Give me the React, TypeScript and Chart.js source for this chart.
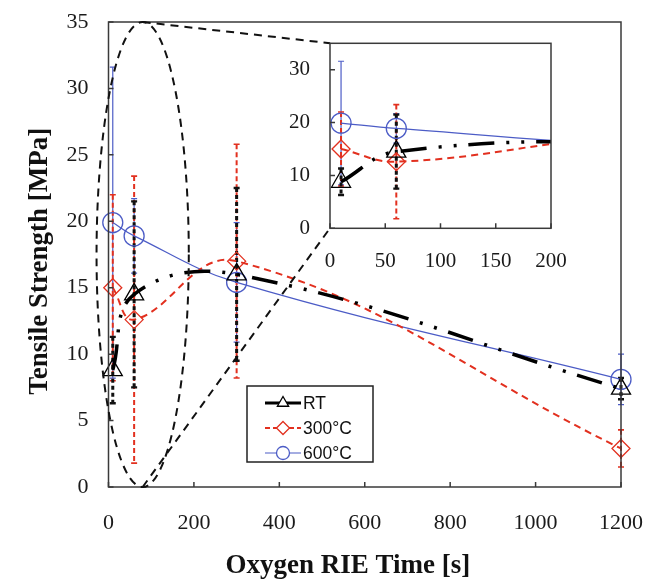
import React, { useEffect, useRef } from 'react';
import { Chart, registerables } from 'chart.js';

Chart.register(...registerables);

// ---------------- data ----------------
const etchTimes = [10, 60, 300, 1200];
const seriesNames = ['RT', '300°C', '600°C'];
const rtStrength = [8.8, 14.5, 16.0, 7.4];
const rtError = [2.5, 7.0, 6.5, 0.8];
const c300Strength = [15.0, 12.6, 17.0, 2.9];
const c300Error = [7.0, 10.8, 8.8, 1.4];
const c600Strength = [19.9, 18.9, 15.4, 8.1];
const c600Error = [11.7, 2.8, 4.5, 1.9];

const mainXTickValues = [0, 200, 400, 600, 800, 1000, 1200];
const mainYTickValues = [0, 5, 10, 15, 20, 25, 30, 35];
const insetXTickValues = [0, 50, 100, 150, 200];
const insetYTickValues = [0, 10, 20, 30];

const xTitle = 'Oxygen RIE Time [s]';
const yTitle = 'Tensile Strength [MPa]';
// trailing no-break spaces nudge the centred titles to where the reference puts them
const xTitleShift = '\u00a0\u00a0\u00a0\u00a0\u00a0';
const yTitleShift = '\u00a0\u00a0';

// zoom annotation (data units of the main chart)
const zoomEllipse = { cx: 80, cy: 17.5, rx: 108, ry: 17.5 };
const insetAnchor = { x: 519, yTop: 33.4, yBottom: 19.5 };

// ---------------- styles ----------------
const SERIF = '"Liberation Serif", "Times New Roman", Times, serif';
const SANS = '"Liberation Sans", Arial, Helvetica, sans-serif';
const RED = '#e2301f';
const BLUE = '#4c5cc6';
const BLACK = '#000000';
const AXIS = '#3a3a3a';

type ErrStyle = { color: string; width: number; dash: number[] };

function buildDatasets() {
  const mk = (
    label: string, ys: number[], errs: number[], color: string, width: number,
    dash: number[], pointStyle: string, radius: number, errStyle: ErrStyle,
    legendWidth: number, legendDash: number[],
  ) => ({
    label,
    data: etchTimes.map((x, i) => ({ x, y: ys[i] })),
    errors: errs,
    errStyle,
    legendWidth,
    legendDash,
    borderColor: color,
    backgroundColor: 'rgba(0,0,0,0)',
    borderWidth: width,
    borderDash: dash,
    tension: 0.4,
    fill: false,
    pointStyle,
    pointRadius: radius,
    pointHoverRadius: radius,
    pointBorderColor: color,
    pointBackgroundColor: 'rgba(255,255,255,0)',
    pointBorderWidth: 1.3,
  });
  return [
    mk(seriesNames[0], rtStrength, rtError, BLACK, 3.5, [26, 12, 3, 12, 3, 12], 'triangle', 11,
      { color: '#111111', width: 3, dash: [4, 3] }, 3, []),
    mk(seriesNames[1], c300Strength, c300Error, RED, 2, [7, 5], 'rectRot', 9,
      { color: RED, width: 2, dash: [5, 3] }, 2, [5, 3]),
    mk(seriesNames[2], c600Strength, c600Error, BLUE, 1.2, [], 'circle', 10,
      { color: BLUE, width: 1.2, dash: [] }, 1.2, []),
  ];
}

// ---------------- plugins ----------------
const errorBarPlugin = {
  id: 'errorBars',
  beforeDatasetsDraw(chart: any, _args: any, opts: any) {
    const { ctx, chartArea } = chart;
    const xs = chart.scales.x;
    const ys = chart.scales.y;
    ctx.save();
    if (opts && opts.clip) {
      ctx.beginPath();
      ctx.rect(chartArea.left, chartArea.top, chartArea.right - chartArea.left, chartArea.bottom - chartArea.top);
      ctx.clip();
    }
    const list = chart.data.datasets.map((d: any, i: number) => i).reverse();
    list.forEach((i: number) => {
      const ds = chart.data.datasets[i];
      const st: ErrStyle = ds.errStyle;
      ds.data.forEach((pt: any, j: number) => {
        const e = ds.errors[j];
        const x = xs.getPixelForValue(pt.x);
        const y1 = ys.getPixelForValue(pt.y + e);
        const y2 = ys.getPixelForValue(Math.max(pt.y - e, ys.min));
        ctx.strokeStyle = st.color;
        ctx.lineWidth = st.width;
        ctx.setLineDash(st.dash);
        ctx.beginPath();
        ctx.moveTo(x, y1);
        ctx.lineTo(x, y2);
        ctx.stroke();
        ctx.setLineDash([]);
        ctx.lineWidth = Math.max(1.2, st.width * 0.8);
        ctx.beginPath();
        ctx.moveTo(x - 3, y1);
        ctx.lineTo(x + 3, y1);
        ctx.moveTo(x - 3, y2);
        ctx.lineTo(x + 3, y2);
        ctx.stroke();
      });
    });
    ctx.restore();
  },
};

const framePlugin = {
  id: 'frameTicks',
  afterDatasetsDraw(chart: any) {
    const { ctx, chartArea } = chart;
    const { left, top, right, bottom } = chartArea;
    ctx.save();
    ctx.strokeStyle = AXIS;
    ctx.lineWidth = 1.5;
    ctx.setLineDash([]);
    ctx.strokeRect(left, top, right - left, bottom - top);
    ctx.beginPath();
    chart.scales.x.ticks.forEach((t: any) => {
      const x = chart.scales.x.getPixelForValue(t.value);
      ctx.moveTo(x, bottom);
      ctx.lineTo(x, bottom - 5);
    });
    chart.scales.y.ticks.forEach((t: any) => {
      const y = chart.scales.y.getPixelForValue(t.value);
      ctx.moveTo(left, y);
      ctx.lineTo(left + 5, y);
    });
    ctx.stroke();
    ctx.restore();
  },
};

const zoomMarkPlugin = {
  id: 'zoomMark',
  afterDatasetsDraw(chart: any, _args: any, opts: any) {
    if (!opts || !opts.show) return;
    const { ctx } = chart;
    const xs = chart.scales.x;
    const ys = chart.scales.y;
    const cx = xs.getPixelForValue(zoomEllipse.cx);
    const cy = ys.getPixelForValue(zoomEllipse.cy);
    const rx = Math.abs(xs.getPixelForValue(zoomEllipse.cx + zoomEllipse.rx) - cx);
    const ry = Math.abs(ys.getPixelForValue(zoomEllipse.cy + zoomEllipse.ry) - cy);
    const ax = xs.getPixelForValue(insetAnchor.x);
    const ayTop = ys.getPixelForValue(insetAnchor.yTop);
    const ayBot = ys.getPixelForValue(insetAnchor.yBottom);
    ctx.save();
    ctx.strokeStyle = '#111';
    ctx.lineWidth = 2;
    ctx.setLineDash([8, 6]);
    ctx.beginPath();
    ctx.ellipse(cx, cy, rx, ry, 0, 0, Math.PI * 2);
    ctx.stroke();
    ctx.beginPath();
    ctx.moveTo(cx, cy - ry);
    ctx.lineTo(ax, ayTop);
    ctx.moveTo(cx, cy + ry);
    ctx.lineTo(ax, ayBot);
    ctx.stroke();
    ctx.restore();
  },
};

function drawMarker(ctx: CanvasRenderingContext2D, style: string, x: number, y: number, r: number) {
  ctx.beginPath();
  if (style === 'triangle') {
    ctx.moveTo(x, y - r);
    ctx.lineTo(x + r * 0.866, y + r * 0.5);
    ctx.lineTo(x - r * 0.866, y + r * 0.5);
    ctx.closePath();
  } else if (style === 'rectRot') {
    ctx.moveTo(x, y - r);
    ctx.lineTo(x + r, y);
    ctx.lineTo(x, y + r);
    ctx.lineTo(x - r, y);
    ctx.closePath();
  } else {
    ctx.arc(x, y, r, 0, Math.PI * 2);
  }
  ctx.fillStyle = '#ffffff';
  ctx.fill();
  ctx.stroke();
}

const boxLegendPlugin = {
  id: 'boxLegend',
  afterDraw(chart: any, _args: any, opts: any) {
    if (!opts || !opts.show) return;
    const { ctx, chartArea } = chart;
    const left = chartArea.left + opts.dx;
    const top = chartArea.top + opts.dy;
    ctx.save();
    ctx.fillStyle = '#ffffff';
    ctx.fillRect(left, top, opts.width, opts.height);
    ctx.strokeStyle = '#222';
    ctx.lineWidth = 1.5;
    ctx.setLineDash([]);
    ctx.strokeRect(left, top, opts.width, opts.height);
    chart.data.datasets.forEach((ds: any, i: number) => {
      const y = top + 17 + i * 25;
      ctx.strokeStyle = ds.borderColor;
      ctx.lineWidth = ds.legendWidth;
      ctx.setLineDash(ds.legendDash);
      ctx.beginPath();
      ctx.moveTo(left + 18, y);
      ctx.lineTo(left + 54, y);
      ctx.stroke();
      ctx.setLineDash([]);
      ctx.lineWidth = 1.3;
      drawMarker(ctx, ds.pointStyle, left + 36, y, 6.5);
      ctx.fillStyle = '#111';
      ctx.font = '17.5px ' + SANS;
      ctx.textAlign = 'left';
      ctx.textBaseline = 'middle';
      ctx.fillText(ds.label, left + 56, y + 1);
    });
    ctx.restore();
  },
};

// ---------------- configs ----------------
function axis(min: number, max: number, values: number[], size: number, pad: number,
  fitKey: 'width' | 'height', fitSize: number, title?: any) {
  return {
    type: 'linear',
    min,
    max,
    afterBuildTicks: (s: any) => { s.ticks = values.map((v) => ({ value: v })); },
    ticks: {
      font: { family: SERIF, size },
      color: '#1a1a1a',
      padding: pad,
      maxRotation: 0,
      minRotation: 0,
      autoSkip: false,
      callback: (v: any) => String(v),
    },
    grid: { display: false, drawTicks: false },
    border: { display: false },
    title: title || { display: false },
    afterFit: (s: any) => {
      s[fitKey] = fitSize;
      s.paddingTop = 0;
      s.paddingBottom = 0;
      s.paddingLeft = 0;
      s.paddingRight = 0;
    },
  };
}

function mainConfig(): any {
  return {
    type: 'line',
    data: { datasets: buildDatasets() },
    options: {
      animation: false,
      responsive: false,
      events: [],
      layout: { padding: { left: 0, right: 27, top: 22, bottom: 0 } },
      datasets: { line: { clip: false } },
      scales: {
        x: axis(0, 1200, mainXTickValues, 22, 23, 'height', 93, {
          display: true, text: xTitle + xTitleShift, color: '#111',
          font: { family: SERIF, size: 27, weight: 'bold', lineHeight: 1 },
          padding: { top: 0, bottom: 0 },
        }),
        y: axis(0, 35, mainYTickValues, 22, 20, 'width', 108.5, {
          display: true, text: yTitle + yTitleShift, color: '#111',
          font: { family: SERIF, size: 27, weight: 'bold', lineHeight: 1 },
          padding: { top: 27, bottom: 0 },
        }),
      },
      plugins: {
        legend: { display: false },
        tooltip: { enabled: false },
        errorBars: { clip: false },
        zoomMark: { show: true },
        boxLegend: { show: true, dx: 138.5, dy: 364, width: 126, height: 76 },
      },
    },
    plugins: [errorBarPlugin, framePlugin, zoomMarkPlugin, boxLegendPlugin],
  };
}

function insetConfig(): any {
  return {
    type: 'line',
    data: { datasets: buildDatasets() },
    options: {
      animation: false,
      responsive: false,
      events: [],
      layout: { padding: { left: 0, right: 19, top: 23.3, bottom: 0 } },
      scales: {
        x: axis(0, 200, insetXTickValues, 21, 21, 'height', 51.7),
        y: axis(0, 35, insetYTickValues, 21, 20, 'width', 70),
      },
      plugins: {
        legend: { display: false },
        tooltip: { enabled: false },
        errorBars: { clip: true },
      },
    },
    plugins: [errorBarPlugin, framePlugin],
  };
}

export default function App() {
  const mainRef = useRef<HTMLCanvasElement>(null);
  const insetRef = useRef<HTMLCanvasElement>(null);

  useEffect(() => {
    const main = new Chart(mainRef.current as HTMLCanvasElement, mainConfig());
    const inset = new Chart(insetRef.current as HTMLCanvasElement, insetConfig());
    return () => {
      main.destroy();
      inset.destroy();
    };
  }, []);

  return (
    <div style={{ position: 'absolute', left: 0, top: 0, width: 648, height: 580, background: '#ffffff' }}>
      <canvas ref={mainRef} width={648} height={580}
        style={{ position: 'absolute', left: 0, top: 0, width: 648, height: 580 }} />
      <canvas ref={insetRef} width={310} height={260}
        style={{ position: 'absolute', left: 260, top: 20, width: 310, height: 260 }} />
    </div>
  );
}
